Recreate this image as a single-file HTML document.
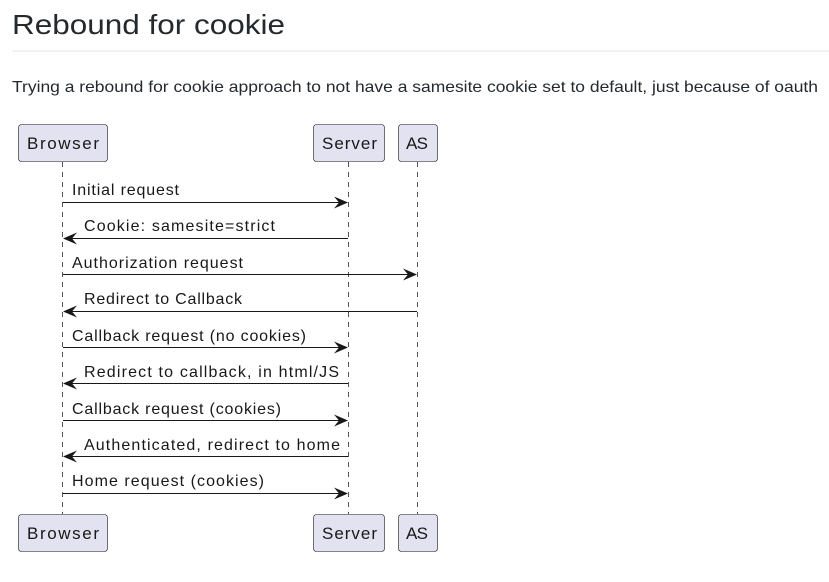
<!DOCTYPE html>
<html><head><style>body{margin:0;background:#fff}</style></head><body>
<svg width="829" height="577" xmlns="http://www.w3.org/2000/svg" font-family="Liberation Sans, DejaVu Sans, sans-serif">
<text x="12" y="34" font-size="28" fill="#24292e" textLength="273" lengthAdjust="spacingAndGlyphs">Rebound for cookie</text>
<line x1="12" y1="51" x2="829" y2="51" stroke="#e1e4e8" stroke-width="1"/>
<text x="12" y="92" font-size="16" fill="#24292e" textLength="806" lengthAdjust="spacingAndGlyphs">Trying a rebound for cookie approach to not have a samesite cookie set to default, just because of oauth</text>
<g stroke="#555" stroke-width="1" stroke-dasharray="5,5">
<line x1="62.5" y1="162" x2="62.5" y2="514"/>
<line x1="348.5" y1="162" x2="348.5" y2="514"/>
<line x1="417.5" y1="162" x2="417.5" y2="514"/>
</g>
<g fill="#e2e2f0" stroke="#181818" stroke-width="0.6">
<rect x="18.5" y="124.5" width="89" height="37" rx="3"/>
<rect x="313.5" y="124.5" width="71" height="37" rx="3"/>
<rect x="398.5" y="124.5" width="39" height="37" rx="3"/>
<rect x="18.5" y="514.5" width="89" height="37" rx="3"/>
<rect x="313.5" y="514.5" width="71" height="37" rx="3"/>
<rect x="398.5" y="514.5" width="39" height="37" rx="3"/>
</g>
<g font-size="17" fill="#181818" lengthAdjust="spacingAndGlyphs">
<text x="27" y="149" textLength="72">Browser</text><text x="322" y="149" textLength="55">Server</text><text x="406" y="149" textLength="22">AS</text>
<text x="27" y="539" textLength="72">Browser</text><text x="322" y="539" textLength="55">Server</text><text x="406" y="539" textLength="22">AS</text>
</g>
<defs>
<path id="ar" d="M0,0 L-14,-6 L-9,0 L-14,6 Z" fill="#181818"/>
<path id="al" d="M0,0 L14,-6 L9,0 L14,6 Z" fill="#181818"/>
</defs>
<g stroke="#181818" stroke-width="1">
<line x1="63" y1="202.5" x2="346" y2="202.5"/>
<line x1="65" y1="238.5" x2="348" y2="238.5"/>
<line x1="63" y1="274.5" x2="415" y2="274.5"/>
<line x1="65" y1="311.5" x2="417" y2="311.5"/>
<line x1="63" y1="347.5" x2="346" y2="347.5"/>
<line x1="65" y1="383.5" x2="348" y2="383.5"/>
<line x1="63" y1="420.5" x2="346" y2="420.5"/>
<line x1="65" y1="456.5" x2="348" y2="456.5"/>
<line x1="63" y1="493.5" x2="346" y2="493.5"/>
</g>
<use href="#ar" x="348" y="202.5"/><use href="#al" x="63" y="238.5"/>
<use href="#ar" x="417" y="274.5"/><use href="#al" x="63" y="311.5"/>
<use href="#ar" x="348" y="347.5"/><use href="#al" x="63" y="383.5"/>
<use href="#ar" x="348" y="420.5"/><use href="#al" x="63" y="456.5"/>
<use href="#ar" x="348" y="493.5"/>
<g font-size="16" fill="#181818" lengthAdjust="spacingAndGlyphs">
<text x="72" y="195" textLength="107">Initial request</text>
<text x="84" y="231" textLength="191">Cookie: samesite=strict</text>
<text x="72" y="268" textLength="171">Authorization request</text>
<text x="84" y="304" textLength="158">Redirect to Callback</text>
<text x="72" y="341" textLength="234">Callback request (no cookies)</text>
<text x="84" y="377" textLength="255">Redirect to callback, in html/JS</text>
<text x="72" y="414" textLength="209">Callback request (cookies)</text>
<text x="84" y="450" textLength="256">Authenticated, redirect to home</text>
<text x="72" y="486" textLength="192">Home request (cookies)</text>
</g>
</svg>
</body></html>
